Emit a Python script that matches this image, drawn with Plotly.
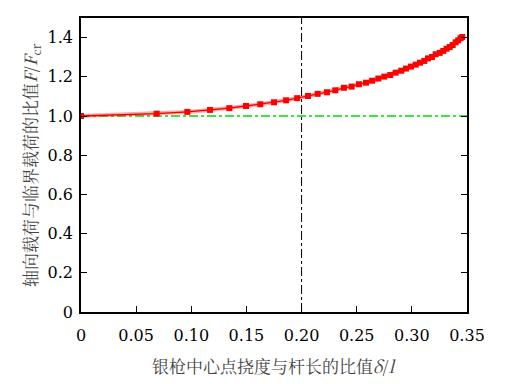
import plotly.graph_objects as go

ratio_x = [0, 0.0686, 0.0964, 0.117, 0.1345, 0.1496, 0.1626, 0.175, 0.186, 0.196,
           0.2058, 0.2146, 0.223, 0.2306, 0.2384, 0.2454, 0.252, 0.2584, 0.264, 0.2696,
           0.275, 0.2804, 0.2853, 0.2904, 0.2947, 0.2992, 0.3035, 0.3074, 0.3113, 0.3146,
           0.3182, 0.3216, 0.3252, 0.3285, 0.3315, 0.3343, 0.337, 0.3397, 0.342, 0.3442, 0.3457]
load_ratio = [1.0, 1.012, 1.021, 1.031, 1.040, 1.051, 1.060, 1.070, 1.080, 1.091,
              1.102, 1.113, 1.121, 1.131, 1.144, 1.150, 1.162, 1.170, 1.180, 1.191,
              1.201, 1.209, 1.221, 1.231, 1.242, 1.252, 1.262, 1.272, 1.281, 1.294,
              1.301, 1.315, 1.322, 1.332, 1.343, 1.352, 1.362, 1.376, 1.386, 1.397, 1.403]
ref_x = [0, 0.35]
ref_y = [1.0, 1.0]
vline_x = 0.2

x_ticks = [0, 0.05, 0.10, 0.15, 0.20, 0.25, 0.30, 0.35]
x_ticktext = ["0", "0.05", "0.10", "0.15", "0.20", "0.25", "0.30", "0.35"]
y_ticks = [0, 0.2, 0.4, 0.6, 0.8, 1.0, 1.2, 1.4]
y_ticktext = ["0", "0.2", "0.4", "0.6", "0.8", "1.0", "1.2", "1.4"]

x_title = "银枪中心点挠度与杆长的比值<i>δ</i>/<i>l</i>"
y_title = "轴向载荷与临界载荷的比值<i>F</i>/<i>F</i><sub>cr</sub>"

fig = go.Figure()
fig.add_trace(go.Scatter(x=ref_x, y=ref_y, mode="lines",
                         line=dict(color="#00dd00", width=1.3, dash="dashdot"),
                         showlegend=False, hoverinfo="skip"))
fig.add_trace(go.Scatter(x=ratio_x, y=load_ratio, mode="lines",
                         line=dict(color="rgba(255,0,0,0.35)", width=4),
                         showlegend=False, hoverinfo="skip"))
fig.add_trace(go.Scatter(x=ratio_x, y=load_ratio, mode="lines+markers",
                         line=dict(color="#ee0000", width=1.3),
                         marker=dict(symbol="square", size=6, color="#ff0000"),
                         showlegend=False))

fig.add_shape(type="line", xref="x", yref="paper", x0=vline_x, x1=vline_x, y0=0, y1=1,
              line=dict(color="black", width=1, dash="dashdot"))

font_num = "DejaVu Serif"
font_cjk = "Noto Serif CJK SC, Noto Sans CJK SC"

fig.add_annotation(text=x_title, xref="paper", yref="paper", x=0.5, y=0,
                   yshift=-53, xanchor="center", yanchor="middle", showarrow=False,
                   font=dict(family=font_cjk, size=17, color="#444"))
fig.add_annotation(text=y_title, xref="paper", yref="paper", x=0, y=0.5,
                   xshift=-51, xanchor="center", yanchor="middle", showarrow=False,
                   textangle=-90,
                   font=dict(family=font_cjk, size=17, color="#444"))

fig.update_layout(
    width=518, height=384,
    margin=dict(l=81, r=51, t=18, b=72),
    plot_bgcolor="white", paper_bgcolor="white",
    font=dict(family=font_num, size=16, color="black"),
    xaxis=dict(range=[0, 0.35], tickvals=x_ticks, ticktext=x_ticktext,
               ticks="inside", ticklen=6, tickcolor="black", tickwidth=1,
               showline=True, linecolor="black", linewidth=1.5, mirror=True,
               showgrid=False, zeroline=False, automargin=False,
               ticklabelstandoff=8,
               tickfont=dict(family=font_num, size=16, color="black")),
    yaxis=dict(range=[0, 1.5], tickvals=y_ticks, ticktext=y_ticktext,
               ticks="inside", ticklen=6, tickcolor="black", tickwidth=1,
               showline=True, linecolor="black", linewidth=1.5, mirror="ticks",
               showgrid=False, zeroline=False, automargin=False,
               ticklabelstandoff=3,
               tickfont=dict(family=font_num, size=16, color="black")),
)

fig.write_html("out.html", config={"displayModeBar": False},
               post_script="document.body.style.margin='0';document.body.style.overflow='hidden';")
